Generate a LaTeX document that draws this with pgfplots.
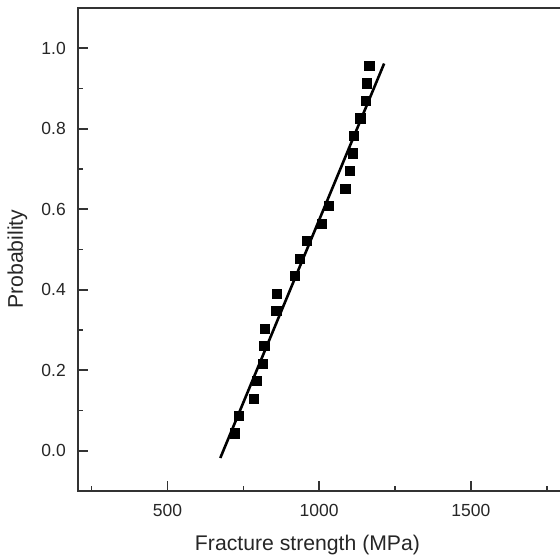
\documentclass[border=0pt]{standalone}
\usepackage{fontspec}
\setmainfont{Liberation Sans}
\usepackage{pgfplots}
\pgfplotsset{compat=1.18}
\begin{document}
\begin{tikzpicture}
\useasboundingbox (-78bp,-68bp) rectangle (482bp,491bp);
\begin{axis}[
  scale only axis,
  width=500bp, height=483bp,
  xmin=205, xmax=1853,
  ymin=-0.1, ymax=1.1,
  axis line style={black!80, line width=1.6bp},
  xtick={500,1000,1500},
  minor xtick={250,750,1250,1750},
  ytick={0,0.2,0.4,0.6,0.8,1.0},
  minor ytick={0.1,0.3,0.5,0.7,0.9},
  yticklabels={0.0,0.2,0.4,0.6,0.8,1.0},
  xtick pos=bottom, ytick pos=left,
  tick align=inside,
  major tick length=10bp, minor tick length=5bp,
  every tick/.style={black!80, line width=1.6bp},
  /pgf/number format/assume math mode=true,
  /pgf/number format/1000 sep={},
  ticklabel style={font=\fontsize{17.5bp}{20bp}\selectfont, text=black!85},
  xticklabel style={anchor=base, yshift=-25bp},
  yticklabel style={anchor=east, inner sep=0pt, xshift=-12bp},
  xlabel={Fracture strength (MPa)},
  ylabel={Probability},
  label style={font=\fontsize{21.2bp}{24bp}\selectfont, text=black!85},
  xlabel style={at={(axis description cs:0.459,-0.1242)}, anchor=base},
  ylabel style={at={(axis description cs:-0.11,0.480)}, anchor=base},
]
\addplot[black, line width=2.6bp] coordinates {(674,-0.018) (1214,0.962)};
\addplot[only marks, mark=square*, mark size=4.6bp, black] coordinates {
(721,0.0435) (735,0.087) (783,0.130) (795,0.174) (814,0.217) (819,0.261)
(820,0.304) (858,0.348) (859,0.391) (918,0.435) (937,0.478) (959,0.522)
(1009,0.565) (1031,0.609) (1086,0.652) (1100,0.696) (1111,0.739) (1115,0.783)
(1135,0.826) (1153,0.870) (1157,0.913) (1165,0.957)
};
\end{axis}
\end{tikzpicture}
\end{document}
